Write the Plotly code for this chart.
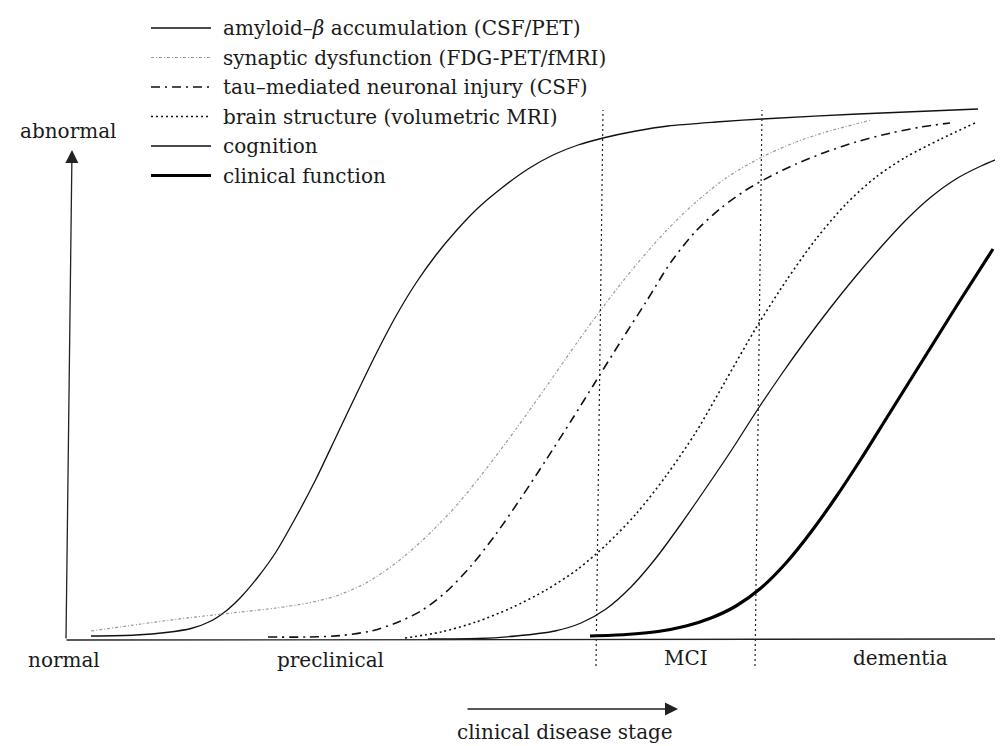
import plotly.graph_objects as go

# ---- data (x: disease progression units, y: abnormality units) ----
amyloid_x = [2.5, 7.0, 10.0, 12.5, 14.5, 16.0, 17.5, 19.2, 21.0, 23.0, 25.0, 27.0, 29.0, 31.0, 33.0, 35.0, 37.0, 39.0, 41.2, 43.7, 46.2, 48.7, 51.2, 53.7, 57.0, 60.2, 65.0, 69.6, 79.2, 91.2]
amyloid_y = [0.8, 1.0, 1.5, 2.3, 3.8, 5.8, 8.6, 12.6, 17.6, 24.6, 32.2, 40.6, 49.0, 57.2, 64.8, 71.4, 77.0, 81.8, 86.4, 90.6, 94.2, 97.0, 99.0, 100.4, 101.8, 102.8, 103.6, 104.2, 105.2, 106.2]

synaptic_x = [2.5, 7.5, 12.5, 17.5, 21.0, 24.2, 27.0, 30.0, 33.0, 36.0, 39.0, 42.0, 45.0, 48.0, 51.0, 54.0, 57.0, 60.0, 63.0, 66.0, 69.6, 73.0, 76.0, 80.5]
synaptic_y = [1.8, 3.2, 4.5, 5.6, 6.4, 7.4, 8.8, 11.4, 15.4, 20.6, 26.8, 34.2, 42.2, 50.6, 59.2, 67.4, 75.0, 81.8, 87.6, 92.4, 96.6, 99.6, 101.6, 104.0]

tau_x = [20.2, 24.2, 27.5, 30.5, 33.0, 35.5, 38.0, 40.5, 43.0, 45.5, 48.0, 50.5, 53.0, 55.5, 58.0, 60.5, 63.0, 65.5, 68.0, 70.5, 73.0, 76.0, 79.0, 82.5, 85.5, 88.4]
tau_y = [0.6, 0.6, 0.9, 1.8, 3.4, 5.8, 9.6, 14.8, 21.2, 28.4, 36.0, 43.8, 51.8, 59.8, 67.6, 75.6, 81.8, 86.4, 90.0, 92.8, 95.2, 97.6, 99.6, 101.4, 102.6, 103.4]

brain_x = [33.9, 37.5, 41.0, 44.5, 48.0, 51.2, 54.0, 57.0, 60.0, 63.0, 66.0, 69.0, 72.0, 75.0, 78.0, 81.0, 84.0, 87.5, 90.9]
brain_y = [0.4, 1.6, 3.6, 6.4, 10.0, 14.2, 19.0, 25.2, 32.8, 41.6, 52.0, 62.4, 71.8, 80.2, 87.2, 92.6, 96.6, 100.2, 103.4]

cognition_x = [36.2, 41.2, 45.0, 48.9, 51.5, 54.0, 56.5, 59.0, 61.5, 64.0, 66.5, 69.0, 71.5, 74.0, 76.5, 79.0, 81.5, 84.0, 86.5, 89.0, 91.5, 93.4]
cognition_y = [0.2, 0.3, 0.8, 1.8, 3.4, 6.2, 10.6, 16.4, 23.2, 30.4, 37.8, 45.6, 53.0, 60.0, 66.6, 72.8, 78.6, 84.0, 88.6, 92.2, 94.8, 96.4]

clinical_x = [52.4, 56.0, 59.2, 62.0, 64.5, 67.0, 69.5, 72.0, 74.5, 77.0, 79.5, 82.0, 84.5, 87.0, 89.5, 92.7]
clinical_y = [0.8, 1.1, 1.7, 2.8, 4.4, 6.8, 10.4, 15.4, 21.6, 28.6, 36.2, 44.2, 52.2, 60.2, 68.2, 78.2]

# stage boundaries (scan is slightly tilted: bottom / top x)
boundary_bottom_x = [53.0, 68.9]
boundary_top_x = [53.7, 69.6]
boundary_y = [-5.2, 106.0]

stage_labels = ["normal", "preclinical", "MCI", "dementia"]
stage_label_x = [-0.25, 26.4, 62.0, 83.4]
stage_label_y = [-4.0, -4.0, -3.6, -3.6]

legend_labels = [
    "amyloid\u2013<i>\u03b2</i> accumulation (CSF/PET)",
    "synaptic dysfunction (FDG-PET/fMRI)",
    "tau\u2013mediated neuronal injury (CSF)",
    "brain structure (volumetric MRI)",
    "cognition",
    "clinical function",
]
legend_row_y = [122.4, 116.5, 110.6, 104.7, 98.8, 92.9]
legend_sample_x = [8.5, 14.5]
legend_text_x = 15.5

# ---- styles ----
FONT = "DejaVu Serif"
INK = "#1a1a1a"
styles = [
    dict(color="#111111", width=1.3, dash="solid"),
    dict(color="#9a9a9a", width=1.2, dash="3px,2px,1px,2px"),
    dict(color="#111111", width=1.6, dash="9px,5px,2px,5px"),
    dict(color="#111111", width=1.6, dash="2px,3px"),
    dict(color="#111111", width=1.3, dash="solid"),
    dict(color="#000000", width=3.2, dash="solid"),
]
series = [
    (amyloid_x, amyloid_y),
    (synaptic_x, synaptic_y),
    (tau_x, tau_y),
    (brain_x, brain_y),
    (cognition_x, cognition_y),
    (clinical_x, clinical_y),
]

fig = go.Figure()

for (sx, sy), st, name in zip(series, styles, legend_labels):
    fig.add_trace(go.Scatter(x=sx, y=sy, mode="lines", line=dict(shape="spline", smoothing=0.8, **st),
                             name=name, showlegend=False, hoverinfo="skip"))

# legend samples drawn manually
for st, ry, name in zip(styles, legend_row_y, legend_labels):
    fig.add_trace(go.Scatter(x=legend_sample_x, y=[ry, ry], mode="lines", line=st,
                             showlegend=False, hoverinfo="skip"))
    fig.add_annotation(x=legend_text_x, y=ry, text=name, showarrow=False, xanchor="left", yanchor="middle",
                       font=dict(family=FONT, size=20, color=INK))

# stage boundaries
for xb, xt in zip(boundary_bottom_x, boundary_top_x):
    fig.add_shape(type="line", x0=xb, y0=boundary_y[0], x1=xt, y1=boundary_y[1],
                  line=dict(color="#222222", width=1.2, dash="2px,3px"))

# axes with arrows
fig.add_annotation(x=94.4, y=0.2, ax=-0.1, ay=0.0, axref="x", ayref="y", xref="x", yref="y", text="",
                   showarrow=True, arrowhead=2, arrowsize=1.5, arrowwidth=1.3, arrowcolor="#222222")
fig.add_annotation(x=0.6, y=98.0, ax=0.0, ay=0.0, axref="x", ayref="y", xref="x", yref="y", text="",
                   showarrow=True, arrowhead=2, arrowsize=2.0, arrowwidth=1.3, arrowcolor="#222222")
fig.add_annotation(x=61.2, y=-13.8, ax=40.0, ay=-13.8, axref="x", ayref="y", xref="x", yref="y", text="",
                   showarrow=True, arrowhead=2, arrowsize=2.0, arrowwidth=1.3, arrowcolor="#222222")

# text labels
for t, lx, ly in zip(stage_labels, stage_label_x, stage_label_y):
    fig.add_annotation(x=lx, y=ly, text=t, showarrow=False, xanchor="center", yanchor="middle",
                       font=dict(family=FONT, size=20, color=INK))
fig.add_annotation(x=0.2, y=101.8, text="abnormal", showarrow=False, xanchor="center", yanchor="middle",
                   font=dict(family=FONT, size=20, color=INK))
fig.add_annotation(x=49.9, y=-18.3, text="clinical disease stage", showarrow=False, xanchor="center",
                   yanchor="middle", font=dict(family=FONT, size=20, color=INK))

fig.update_layout(
    width=1003, height=746,
    margin=dict(l=0, r=0, t=0, b=0),
    paper_bgcolor="white", plot_bgcolor="white",
    xaxis=dict(range=[-5.8, 94.5], visible=False, fixedrange=True),
    yaxis=dict(range=[-22.8, 126.4], visible=False, fixedrange=True),
)

fig.write_html("out.html")
